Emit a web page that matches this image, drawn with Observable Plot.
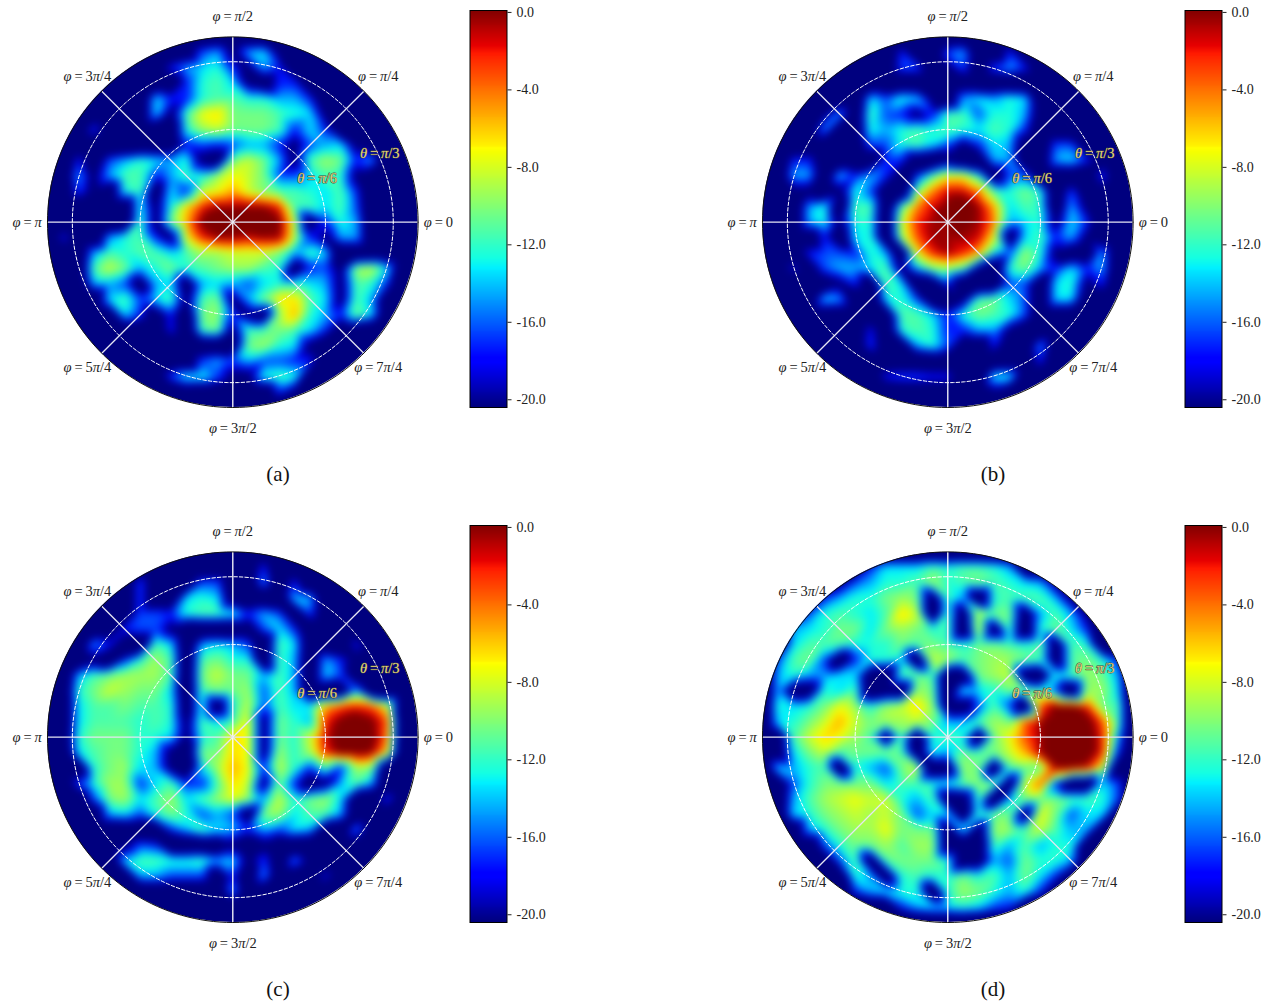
<!DOCTYPE html>
<html><head><meta charset="utf-8">
<script src="https://cdn.jsdelivr.net/npm/d3@7"></script>
<script src="https://cdn.jsdelivr.net/npm/@observablehq/plot@0.6"></script>
<style>
html,body{margin:0;padding:0;background:#fff}
#page{position:relative;width:1273px;height:1005px;overflow:hidden;font-family:"Liberation Serif",serif}
#page>div{position:absolute}
.cap{font-size:21px;color:#111;transform:translateX(-50%);line-height:24px}
svg{display:block;overflow:visible;max-width:none!important}
</style></head><body><div id="page"></div>
<script>
// level = dB above the -20 floor on a 25x25 grid spanning the unit disc
const panelA=[
[0,0,0,0,0,0,0,0,0,0,0,0,0,0,0,0,0,0,0,0,0,0,0,0,0],
[0,0,0,0,0,0,0,0,0,1,4,5,2,5,6,2,0,0,0,0,0,0,0,0,0],
[0,0,0,0,0,0,0,0,3,5,6,7,3,2,5,3,0,0,0,0,0,0,0,0,0],
[0,0,0,0,0,0,0,0,0,3,7,8,6,2,1,3,3,0,0,0,0,0,0,0,0],
[0,0,0,0,0,0,0,6,3,3,7,8,8,7,7,5,5,3,0,0,0,0,0,0,0],
[0,0,0,0,0,0,0,6,2,8,12,13,9,9,9,8,7,6,2,0,0,0,0,0,0],
[0,0,0,4,0,0,0,0,0,7,10,11,9,9,9,8,3,6,3,0,0,0,0,0,0],
[0,0,0,0,0,0,0,0,0,3,4,3,4,5,5,3,2,4,5,6,2,0,0,0,0],
[0,0,3,0,4,5,7,6,5,7,2,1,9,11,9,5,2,8,10,9,3,5,0,0,0],
[0,0,5,2,5,8,8,3,5,8,7,10,12,11,9,4,4,6,8,7,2,0,0,0,0],
[0,0,4,2,0,7,8,1,6,3,11,12,14,11,9,8,8,7,6,8,3,0,0,0,0],
[0,0,0,0,0,0,7,2,7,13,18,20,20,20,20,18,8,8,6,8,4,0,0,0,0],
[0,0,0,0,0,0,8,2,9,14,21,24,24,23,24,21,11,1,3,7,5,0,0,0,0],
[0,3,0,0,5,7,8,3,2,12,18,20,20,19,20,20,11,3,2,5,5,0,0,0,0],
[0,0,0,5,8,7,8,8,6,8,10,10,11,11,11,9,5,8,6,0,0,0,0,0,0],
[0,0,0,8,11,9,5,7,9,7,8,9,10,10,8,7,1,3,4,2,10,11,6,0,0],
[0,0,0,5,5,4,1,5,6,1,5,6,5,4,6,7,7,6,5,2,8,7,3,0,0],
[0,0,0,0,6,8,4,6,8,2,8,9,2,5,9,13,13,8,6,2,8,5,0,0,0],
[0,0,0,0,0,6,3,1,3,0,9,10,3,2,1,10,14,7,5,3,9,6,0,0,0],
[0,0,0,0,0,0,0,0,3,0,8,9,2,8,8,9,8,6,3,0,0,0,0,0,0],
[0,0,0,0,0,0,0,0,0,0,0,0,1,9,10,7,6,2,0,0,0,0,0,0,0],
[0,0,0,0,0,0,0,0,0,0,4,5,4,5,4,4,3,3,0,0,0,0,0,0,0],
[0,0,0,0,0,0,0,0,4,7,7,4,2,2,7,8,7,0,0,0,0,0,0,0,0],
[0,0,0,0,0,0,0,0,0,1,0,0,0,0,0,3,2,0,0,0,0,0,0,0,0],
[0,0,0,0,0,0,0,0,0,0,0,0,0,0,0,0,0,0,0,0,0,0,0,0,0]];
const panelB=[
[0,0,0,0,0,0,0,0,0,0,0,0,0,0,0,0,0,0,0,0,0,0,0,0,0],
[0,0,0,0,0,0,0,0,0,3,0,0,4,5,0,0,3,0,0,0,0,0,0,0,0],
[0,0,0,0,0,0,0,2,0,4,4,0,2,4,0,4,5,3,0,0,0,0,0,0,0],
[0,0,0,0,0,0,0,0,0,0,0,0,0,1,0,0,0,0,0,0,0,0,0,0,0],
[0,0,0,0,0,0,0,6,4,7,6,2,0,5,6,5,7,6,0,0,0,0,0,0,0],
[0,0,0,0,2,5,0,8,4,3,2,3,8,8,4,7,7,5,1,0,0,0,0,0,0],
[0,0,0,0,5,0,0,7,5,7,8,7,8,7,6,8,7,3,0,0,0,0,0,0,0],
[0,0,0,0,0,0,0,4,4,7,8,6,4,2,3,6,5,1,0,4,4,0,0,0,0],
[0,0,3,3,0,0,0,0,3,3,1,0,2,0,0,5,5,0,0,5,6,3,2,0,0],
[0,0,5,5,0,6,3,5,3,0,3,8,12,12,7,1,4,4,0,0,0,0,4,0,0],
[0,0,2,2,0,2,7,4,0,0,9,15,19,19,15,8,7,9,7,0,4,0,2,0,0],
[0,0,0,5,7,0,8,8,0,8,15,19,21,23,20,14,6,8,7,0,5,2,0,0,0],
[0,0,0,5,7,2,7,7,0,11,18,20,20,21,20,15,5,6,7,2,6,3,0,0,0],
[0,0,0,0,3,0,6,7,0,10,16,20,20,20,19,12,1,6,8,3,5,2,0,0,0],
[0,0,0,3,4,4,3,7,5,0,12,18,20,18,14,6,4,10,7,2,0,0,5,0,0],
[0,0,3,0,4,5,5,6,8,2,5,9,10,8,2,0,7,9,5,3,6,3,5,0,0],
[0,0,0,0,0,2,3,0,8,6,0,0,3,0,0,0,4,4,0,6,7,2,3,0,0],
[0,0,0,0,6,5,0,0,6,7,4,0,0,2,8,9,6,4,0,6,6,0,0,0,0],
[0,0,0,0,0,0,0,0,0,8,8,6,3,7,9,8,7,4,0,0,0,0,0,0,0],
[0,0,0,0,0,0,0,3,0,7,8,7,3,3,5,5,2,0,0,0,0,0,0,0,0],
[0,0,0,0,0,0,0,4,0,0,5,7,4,0,0,3,0,0,5,0,0,0,0,0,0],
[0,0,0,0,0,0,0,0,0,0,0,0,0,0,0,0,0,0,3,0,0,0,0,0,0],
[0,0,0,0,0,0,0,0,3,4,4,3,3,1,0,7,7,0,0,0,0,0,0,0,0],
[0,0,0,0,0,0,0,0,0,0,0,0,0,0,0,2,0,0,0,0,0,0,0,0,0],
[0,0,0,0,0,0,0,0,0,0,0,0,0,0,0,0,0,0,0,0,0,0,0,0,0]];
const panelC=[
[0,0,0,0,0,0,0,0,0,0,0,0,0,0,0,0,0,0,0,0,0,0,0,0,0],
[0,0,0,0,0,0,0,0,0,0,0,0,0,0,3,0,0,0,0,0,0,0,0,0,0],
[0,0,0,0,0,0,4,0,0,0,4,4,0,0,5,0,3,0,0,0,0,0,0,0,0],
[0,0,0,0,0,0,4,0,0,6,7,6,1,0,0,0,6,5,0,0,0,0,0,0,0],
[0,0,0,0,0,0,4,4,3,7,8,8,7,3,5,4,0,4,0,0,0,0,0,0,0],
[0,0,0,0,0,3,4,4,2,0,0,0,0,1,4,6,3,0,0,0,0,0,0,0,0],
[0,0,0,5,3,0,0,8,6,0,5,6,5,4,0,8,6,0,0,0,3,0,0,0,0],
[0,0,0,2,0,3,7,10,8,0,8,9,7,7,0,8,5,0,5,3,2,0,0,0,0],
[0,0,5,8,9,10,10,10,8,0,9,11,9,9,5,8,5,0,6,4,0,0,0,0,0],
[0,0,7,9,11,10,9,9,6,0,8,9,9,10,4,8,5,0,0,0,5,0,0,0,0],
[0,0,6,8,8,9,8,8,7,1,7,1,7,11,4,8,6,6,14,17,18,17,12,0,0],
[0,0,6,8,8,8,7,8,7,2,8,6,8,12,2,9,7,5,18,21,23,21,17,0,0],
[0,0,7,9,9,9,7,7,6,2,7,8,13,12,2,9,7,11,19,22,24,22,15,0,0],
[0,0,6,8,9,9,7,5,2,0,9,9,13,12,2,10,7,10,18,21,21,20,13,0,0],
[0,0,0,7,9,10,6,5,2,0,6,10,14,12,3,11,7,3,8,3,10,9,0,0,0],
[0,0,4,7,10,10,3,6,8,3,3,8,13,11,2,9,3,1,2,5,8,5,0,0,0],
[0,0,0,4,9,10,6,8,10,6,8,10,12,10,5,11,7,9,10,6,0,0,4,0,0],
[0,0,0,0,5,6,4,7,9,7,4,5,4,1,9,10,6,8,8,5,0,0,0,0,0],
[0,0,0,0,0,0,0,0,3,5,8,6,5,3,5,4,6,5,0,0,5,0,0,0,0],
[0,0,0,0,0,2,4,3,0,0,0,0,2,0,2,0,0,0,0,0,0,0,0,0,0],
[0,0,0,0,0,6,8,8,7,7,8,5,6,2,4,0,5,2,0,0,0,0,0,0,0],
[0,0,0,0,0,0,5,5,4,4,4,0,3,0,5,0,0,0,3,0,0,0,0,0,0],
[0,0,0,0,0,0,0,0,0,0,0,0,5,0,0,0,0,0,0,0,0,0,0,0,0],
[0,0,0,0,0,0,0,0,0,0,0,0,0,0,0,0,0,0,0,0,0,0,0,0,0],
[0,0,0,0,0,0,0,0,0,0,0,0,0,0,0,0,0,0,0,0,0,0,0,0,0]];
const panelD=[
[0,0,0,0,0,0,0,0,0,0,0,0,0,0,0,0,0,0,0,0,0,0,0,0,0],
[0,0,0,0,0,0,0,3,6,6,6,8,7,8,8,7,5,0,0,0,0,0,0,0,0],
[0,0,0,0,0,2,4,5,7,7,8,10,7,8,9,8,7,6,5,2,0,0,0,0,0],
[0,0,0,0,3,5,7,7,9,10,9,1,8,5,0,7,8,8,8,5,2,0,0,0,0],
[0,0,0,4,7,8,7,6,8,13,11,0,8,1,12,9,9,1,5,8,5,2,0,0,0],
[0,0,5,6,7,9,9,6,9,10,9,7,8,0,12,1,8,0,7,9,6,3,0,0,0],
[0,0,6,8,8,8,7,7,7,9,8,9,8,7,9,9,8,7,9,1,8,7,0,0,0],
[0,4,8,9,4,0,3,7,7,6,0,11,10,8,9,10,10,9,8,1,8,9,7,3,0],
[0,5,7,5,5,6,6,0,0,8,9,8,0,1,9,10,11,1,0,7,8,10,9,5,0],
[0,5,1,1,7,6,8,0,1,0,10,9,0,7,6,7,9,9,7,4,0,10,10,6,0],
[0,7,6,7,9,12,10,7,10,11,13,10,1,1,4,8,4,0,17,21,21,18,9,8,0],
[0,6,7,9,11,14,11,9,10,10,11,9,5,5,8,10,9,16,20,22,22,22,17,8,0],
[0,0,8,11,13,12,10,8,1,8,0,7,8,7,0,9,12,17,20,22,22,23,18,5,0],
[0,1,6,9,11,8,9,9,9,8,1,7,5,9,8,9,11,14,20,22,23,23,18,3,0],
[0,6,5,7,8,0,7,5,4,9,11,0,1,10,9,0,8,9,8,20,20,19,12,0,0],
[0,0,4,7,9,9,9,9,6,8,8,7,7,9,10,9,1,11,16,3,0,0,6,4,0],
[0,0,5,8,10,11,12,11,11,7,5,8,1,1,8,0,5,9,9,9,8,8,7,4,0],
[0,0,6,7,9,10,11,10,11,9,4,6,6,0,8,9,9,1,12,9,4,6,6,0,0],
[0,0,0,5,7,9,10,10,12,9,9,9,1,7,1,10,10,8,11,8,5,5,0,0,0],
[0,0,0,0,4,7,9,9,10,8,10,10,1,0,0,8,5,8,5,7,7,0,0,0,0],
[0,0,0,0,0,4,8,1,8,9,9,9,7,0,1,5,4,9,7,7,5,0,0,0,0],
[0,0,0,0,0,0,7,5,1,7,8,7,7,9,7,8,5,9,6,3,0,0,0,0,0],
[0,0,0,0,0,0,3,5,6,7,7,0,7,10,9,7,5,7,3,0,0,0,0,0,0],
[0,0,0,0,0,0,0,0,0,3,5,6,6,7,6,4,3,0,0,0,0,0,0,0,0],
[0,0,0,0,0,0,0,0,0,0,0,0,0,0,0,0,0,0,0,0,0,0,0,0,0]];

const captions=["(a)","(b)","(c)","(d)"];
const cbTicks=[0,-4,-8,-12,-16,-20];
const dbMin=-20.4, dbMax=0.1;
const floorLevels=[-27,-25,-22];   // grid cells at or under the clipped floor
const jetStops=[0,.11,.125,.34,.35,.375,.64,.65,.66,.89,.91,1];
const jetColors=["#00007f","#0000ff","#0000ff","#00e5ff","#00f0ff","#14ffe2","#f5ff00","#ffff00","#fff000","#ff1a00","#e60000","#7f0000"];
const phiAngles=[0,.25,.5,.75,1,1.25,1.5,1.75];
const phiNames=["φ = 0","φ = π/4","φ = π/2","φ = 3π/4","φ = π","φ = 5π/4","φ = 3π/2","φ = 7π/4"];
const thetaNames=["θ = π/6","θ = π/3"];
const thetaRadius=[Math.sin(Math.PI/6),Math.sin(Math.PI/3)];
const thetaX=[.455,.793], thetaY=[.235,.372];
const spokes=[0,.25,.5,.75];

const R=185.3, cx=232.3, cyTop=221.7, W=465, H=445;
const colorOpts={type:"linear",domain:jetStops.map(t=>dbMin+(dbMax-dbMin)*t),range:jetColors,clamp:true};
const gridN=25;
const toDb=v=>v<3?floorLevels[v]:(v>=5&&v<=16?v+1:v)+dbMin;
function cells(rows){
  const out=[];
  rows.forEach((row,j)=>row.forEach((v,i)=>out.push({x:-1+2*i/(gridN-1),y:1-2*j/(gridN-1),v:toDb(v)})));
  return out;
}
const ringT=d3.range(0,361,2).map(d=>d*Math.PI/180);
const ring=r=>ringT.map(t=>({x:r*Math.cos(t),y:r*Math.sin(t)}));
function italicize(svg){
  svg.querySelectorAll("text").forEach(t=>{
    const s=t.textContent; if(!/[φθ]/.test(s))return;
    const host=t.querySelector("tspan")||t; host.textContent="";
    s.replace(/ = /,"\u2009=\u2009").split(/([φθπ])/).filter(Boolean).forEach(part=>{
      const sp=document.createElementNS("http://www.w3.org/2000/svg","tspan");
      if(/[φθπ]/.test(part))sp.setAttribute("font-style","italic");
      sp.textContent=part; host.appendChild(sp);
    });
  });
}
let clipId=0;
function polar(rows){
  const svg=Plot.plot({
    width:W,height:H,margin:0,
    style:{background:"transparent",fontFamily:"'Liberation Serif',serif"},
    x:{domain:[-cx/R,(W-cx)/R],axis:null},
    y:{domain:[(cyTop-H)/R,cyTop/R],axis:null},
    color:colorOpts,
    marks:[
      Plot.raster(cells(rows),{x:"x",y:"y",fill:"v",x1:-1,x2:1,y1:-1,y2:1,interpolate:"barycentric",blur:3.5}),
      Plot.link(spokes,{x1:d=>-Math.cos(d*Math.PI),y1:d=>-Math.sin(d*Math.PI),x2:d=>Math.cos(d*Math.PI),y2:d=>Math.sin(d*Math.PI),stroke:d=>d===.5?"#fff":"#e6e6f4",strokeWidth:1.3}),
      ...thetaRadius.map(r=>Plot.line(ring(r),{x:"x",y:"y",stroke:"#fff",strokeWidth:1,strokeDasharray:"3.5,2"})),
      Plot.line(ring(1),{x:"x",y:"y",stroke:"#111",strokeWidth:1}),
      Plot.text(phiAngles,{x:d=>1.11*Math.cos(d*Math.PI),y:d=>1.11*Math.sin(d*Math.PI),text:(d,i)=>phiNames[i],fontSize:14.5,fill:"#222"}),
      Plot.text(thetaNames,{x:(d,i)=>thetaX[i],y:(d,i)=>thetaY[i],text:d=>d,fontSize:14.5,fill:"#e6d878",stroke:"#444",strokeWidth:.9,paintOrder:"stroke"})
    ]
  });
  const rasterGroup=svg.querySelector("image").parentNode;
  const NS="http://www.w3.org/2000/svg";
  const clip=document.createElementNS(NS,"clipPath"); clip.id="disc"+(clipId++);
  const circle=document.createElementNS(NS,"circle");
  circle.setAttribute("cx",cx);circle.setAttribute("cy",cyTop);circle.setAttribute("r",R);
  clip.appendChild(circle); svg.appendChild(clip);
  const g=document.createElementNS(NS,"g"); g.setAttribute("clip-path",`url(#${clip.id})`);
  rasterGroup.parentNode.insertBefore(g,rasterGroup); g.appendChild(rasterGroup);
  italicize(svg);
  return svg;
}
function colorbar(){
  const step=.05, levels=d3.range(dbMin,dbMax,step);
  return Plot.plot({
    width:100,height:420,marginLeft:9.5,marginRight:53.5,marginTop:10,marginBottom:13,
    style:{background:"transparent",fontFamily:"'Liberation Serif',serif",fontSize:"14px"},
    x:{domain:[0,1],axis:null},
    y:{domain:[dbMin,dbMax],axis:null},
    color:colorOpts,
    marks:[
      Plot.rect(levels,{x1:()=>0,x2:()=>1,y1:d=>d,y2:d=>d+step*1.2,fill:d=>d,shapeRendering:"crispEdges"}),
      Plot.frame({stroke:"#000",strokeWidth:1}),
      Plot.axisY({anchor:"right",ticks:cbTicks,tickFormat:d=>d.toFixed(1),tickSize:4,tickPadding:5.5,fontSize:14,color:"#222",label:null})
    ]
  });
}
const page=document.getElementById("page");
[[panelA,0,0],[panelB,715,0],[panelC,0,515.3],[panelD,715,515.3]].forEach(([rows,dx,dy],i)=>{
  const a=document.createElement("div");a.style.left=dx+"px";a.style.top=dy+"px";a.appendChild(polar(rows));page.appendChild(a);
  const b=document.createElement("div");b.style.left=(460+dx)+"px";b.style.top=dy+"px";b.appendChild(colorbar());page.appendChild(b);
  const c=document.createElement("div");c.className="cap";c.textContent=captions[i];c.style.left=(278+dx)+"px";c.style.top=(462+dy)+"px";page.appendChild(c);
});
</script></body></html>
